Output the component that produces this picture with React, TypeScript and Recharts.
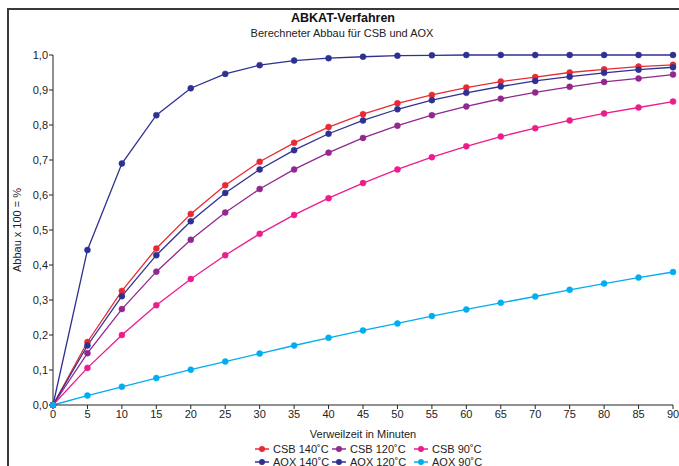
import { LineChart, Line, XAxis, YAxis, Legend } from "recharts";

const minutes = [0, 5, 10, 15, 20, 25, 30, 35, 40, 45, 50, 55, 60, 65, 70, 75, 80, 85, 90];

const csb140 = [0, 0.18, 0.326, 0.447, 0.546, 0.628, 0.695, 0.749, 0.794, 0.831, 0.862, 0.886, 0.907, 0.924, 0.937, 0.95, 0.959, 0.967, 0.972];
const aox140 = [0, 0.443, 0.69, 0.828, 0.905, 0.946, 0.971, 0.984, 0.991, 0.995, 0.998, 0.999, 1.0, 1.0, 1.0, 1.0, 1.0, 1.0, 1.0];
const csb120 = [0, 0.148, 0.274, 0.381, 0.472, 0.55, 0.617, 0.673, 0.721, 0.763, 0.798, 0.828, 0.853, 0.875, 0.893, 0.909, 0.923, 0.933, 0.944];
const aox120 = [0, 0.17, 0.311, 0.428, 0.525, 0.606, 0.673, 0.728, 0.775, 0.813, 0.845, 0.871, 0.892, 0.91, 0.926, 0.938, 0.949, 0.958, 0.965];
const csb90 = [0, 0.106, 0.2, 0.285, 0.36, 0.428, 0.489, 0.543, 0.591, 0.634, 0.673, 0.708, 0.739, 0.767, 0.791, 0.813, 0.833, 0.85, 0.867];
const aox90 = [0, 0.027, 0.052, 0.077, 0.101, 0.124, 0.147, 0.17, 0.192, 0.213, 0.233, 0.254, 0.273, 0.292, 0.31, 0.329, 0.347, 0.364, 0.38];

const yTicks = [0, 0.1, 0.2, 0.3, 0.4, 0.5, 0.6, 0.7, 0.8, 0.9, 1.0];

const seriesKeys = ["csb140", "aox140", "csb120", "aox120", "csb90", "aox90"];
const seriesNames: Record<string, string> = {
  csb140: "CSB 140˚C",
  aox140: "AOX 140˚C",
  csb120: "CSB 120˚C",
  aox120: "AOX 120˚C",
  csb90: "CSB 90˚C",
  aox90: "AOX 90˚C",
};
const colors: Record<string, string> = {
  csb140: "#ea2a33",
  aox140: "#2e3192",
  csb120: "#92278f",
  aox120: "#2e3192",
  csb90: "#ec1c8c",
  aox90: "#00aeef",
};

// legend order: CSB row on top, AOX row below
const legendRows = [
  ["csb140", "csb120", "csb90"],
  ["aox140", "aox120", "aox90"],
];
const legendCols = [255, 332, 414];

const data = minutes.map((m, i) => ({
  min: m,
  csb140: csb140[i],
  aox140: aox140[i],
  csb120: csb120[i],
  aox120: aox120[i],
  csb90: csb90[i],
  aox90: aox90[i],
}));

const font = "'Liberation Sans', Arial, Helvetica, sans-serif";
const comma = (v: number) => v.toFixed(1).replace(".", ",");

function LegendBox() {
  return (
    <div style={{ position: "relative", height: 26, fontFamily: font, fontSize: 11, color: "#222" }}>
      {legendRows.map((row, r) =>
        row.map((k, c) => (
          <div
            key={k}
            style={{
              position: "absolute",
              left: legendCols[c],
              top: 2 + r * 13,
              height: 13,
              display: "flex",
              alignItems: "center",
              whiteSpace: "nowrap",
            }}
          >
            <svg width={14} height={8} style={{ marginRight: 4 }}>
              <line x1={0} y1={4} x2={14} y2={4} stroke={colors[k]} strokeWidth={1.5} />
              <circle cx={7} cy={4} r={3} fill={colors[k]} />
            </svg>
            <span>{seriesNames[k]}</span>
          </div>
        ))
      )}
    </div>
  );
}

export default function App() {
  return (
    <div style={{ position: "relative", width: 679, height: 466, overflow: "hidden", background: "#fff" }}>
      <style>{"body{margin:0}"}</style>
      <div
        style={{
          position: "absolute",
          left: 7,
          top: 8,
          width: 720,
          height: 520,
          borderLeft: "2px solid #3a3a3a",
          borderTop: "2px solid #3a3a3a",
        }}
      />
      <div style={{ position: "absolute", left: 0, top: 0 }}>
        <LineChart
          width={679}
          height={466}
          data={data}
          margin={{ top: 55, right: 6, bottom: 0, left: 0 }}
          style={{ fontFamily: font }}
        >
          <text x={343} y={22} textAnchor="middle" fontSize={12.5} fontWeight="bold" fill="#111">
            ABKAT-Verfahren
          </text>
          <text x={342} y={37} textAnchor="middle" fontSize={11} fill="#222">
            Berechneter Abbau für CSB und AOX
          </text>
          <text
            x={21}
            y={230}
            textAnchor="middle"
            fontSize={11}
            fill="#222"
            transform="rotate(-90 21 230)"
          >
            Abbau x 100 = %
          </text>
          <XAxis
            dataKey="min"
            type="number"
            domain={[0, 90]}
            ticks={minutes}
            interval={0}
            height={35}
            tickSize={4}
            tickMargin={1}
            axisLine={{ stroke: "#222" }}
            tickLine={{ stroke: "#222" }}
            tick={{ fontSize: 11, fill: "#222" }}
            label={{ value: "Verweilzeit in Minuten", position: "insideBottom", offset: 2, fontSize: 11, fill: "#222" }}
          />
          <YAxis
            type="number"
            domain={[0, 1]}
            ticks={yTicks}
            interval={0}
            width={53}
            tickSize={4}
            tickMargin={1}
            tickFormatter={comma}
            axisLine={{ stroke: "#222" }}
            tickLine={{ stroke: "#222" }}
            tick={{ fontSize: 11, fill: "#222" }}
          />
          <Legend verticalAlign="bottom" content={() => <LegendBox />} />
          {seriesKeys.map((k) => (
            <Line
              key={k}
              dataKey={k}
              name={seriesNames[k]}
              type="linear"
              stroke={colors[k]}
              strokeWidth={1.3}
              dot={{ r: 3, fill: colors[k], stroke: colors[k], strokeWidth: 0.5 }}
              isAnimationActive={false}
            />
          ))}
        </LineChart>
      </div>
    </div>
  );
}
